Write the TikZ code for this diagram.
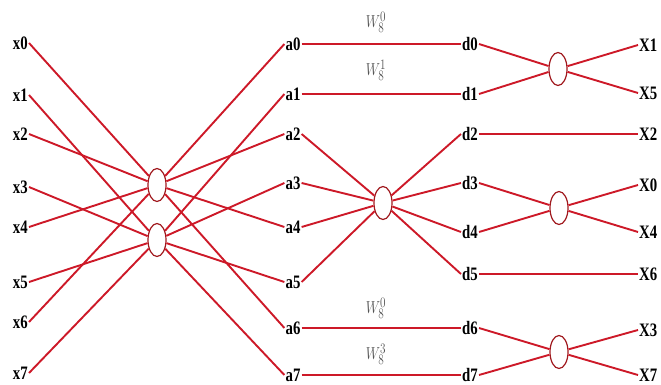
\documentclass[tikz,border=0pt]{standalone}
\usepackage{fontspec}
\usepackage{graphicx}
\setmainfont{Liberation Serif}
\usetikzlibrary{shapes.geometric}
\definecolor{wire}{RGB}{205,25,40}
\definecolor{ringc}{RGB}{160,25,30}
\definecolor{wgray}{RGB}{80,80,80}
\newcommand{\nm}[1]{\scalebox{0.78}[1]{#1}}
\begin{document}
\begin{tikzpicture}[x=1pt,y=-1pt,
  lbl/.style={font=\fontsize{19}{19}\selectfont\bfseries, inner sep=1pt, text=black},
  bfly/.style={ellipse, draw=ringc, line width=1.2pt, fill=white, minimum width=18pt, minimum height=33pt, inner sep=0pt},
  wire/.style={draw=wire, line width=1.9pt},
  twid/.style={font=\fontsize{19}{19}\selectfont, text=wgray, inner sep=0pt}]
\useasboundingbox (0,0) rectangle (661,385);
% input labels
\node[lbl, anchor=east] (x0) at (29,43) {\nm{x0}};
\node[lbl, anchor=east] (x1) at (29,95) {\nm{x1}};
\node[lbl, anchor=east] (x2) at (29,134) {\nm{x2}};
\node[lbl, anchor=east] (x3) at (29,187) {\nm{x3}};
\node[lbl, anchor=east] (x4) at (29,227) {\nm{x4}};
\node[lbl, anchor=east] (x5) at (29,282) {\nm{x5}};
\node[lbl, anchor=east] (x6) at (29,322) {\nm{x6}};
\node[lbl, anchor=east] (x7) at (29,373) {\nm{x7}};
% stage 1 butterflies
\node[bfly] (U) at (157,185) {};
\node[bfly] (L) at (157,240) {};
% a labels
\node[lbl] (a0) at (293,44) {\nm{a0}};
\node[lbl] (a1) at (293,94) {\nm{a1}};
\node[lbl] (a2) at (293,134) {\nm{a2}};
\node[lbl] (a3) at (293,183) {\nm{a3}};
\node[lbl] (a4) at (293,227) {\nm{a4}};
\node[lbl] (a5) at (293,282) {\nm{a5}};
\node[lbl] (a6) at (293,328) {\nm{a6}};
\node[lbl] (a7) at (293,375) {\nm{a7}};
% stage 2 butterfly
\node[bfly] (M) at (383,203) {};
% d labels
\node[lbl] (d0) at (470,44) {\nm{d0}};
\node[lbl] (d1) at (470,94) {\nm{d1}};
\node[lbl] (d2) at (470,134) {\nm{d2}};
\node[lbl] (d3) at (470,183) {\nm{d3}};
\node[lbl] (d4) at (470,232) {\nm{d4}};
\node[lbl] (d5) at (470,274) {\nm{d5}};
\node[lbl] (d6) at (470,328) {\nm{d6}};
\node[lbl] (d7) at (470,375) {\nm{d7}};
% stage 3 butterflies
\node[bfly] (R1) at (558,69) {};
\node[bfly] (R2) at (559,208) {};
\node[bfly] (R3) at (559,352) {};
% outputs
\node[lbl, anchor=west] (X1) at (638,45) {\nm{X1}};
\node[lbl, anchor=west] (X5) at (638,93) {\nm{X5}};
\node[lbl, anchor=west] (X2) at (638,134) {\nm{X2}};
\node[lbl, anchor=west] (X0) at (638,185) {\nm{X0}};
\node[lbl, anchor=west] (X4) at (638,232) {\nm{X4}};
\node[lbl, anchor=west] (X6) at (638,274) {\nm{X6}};
\node[lbl, anchor=west] (X3) at (638,330) {\nm{X3}};
\node[lbl, anchor=west] (X7) at (638,375) {\nm{X7}};
% twiddle labels
\node[twid] (w0) at (376,22) {\nm{$W_8^0$}};
\node[twid] (w1) at (376,70) {\nm{$W_8^1$}};
\node[twid] (w2) at (376,308) {\nm{$W_8^0$}};
\node[twid] (w3) at (376,354) {\nm{$W_8^3$}};
% stage 1 wires
\foreach \i in {0,2,4,6} {
  \draw[wire] (x\i.east) -- (U);
  \draw[wire] (U) -- (a\i.west);
}
\foreach \i in {1,3,5,7} {
  \draw[wire] (x\i.east) -- (L);
  \draw[wire] (L) -- (a\i.west);
}
% stage 2 wires
\foreach \i in {0,1,6,7} {
  \draw[wire] (a\i.east) -- (d\i.west);
}
\foreach \i in {2,3,4,5} {
  \draw[wire] (a\i.east) -- (M);
  \draw[wire] (M) -- (d\i.west);
}
% stage 3 wires
\draw[wire] (d0.east) -- (R1);
\draw[wire] (d1.east) -- (R1);
\draw[wire] (R1) -- (X1.west);
\draw[wire] (R1) -- (X5.west);
\draw[wire] (d2.east) -- (X2.west);
\draw[wire] (d3.east) -- (R2);
\draw[wire] (d4.east) -- (R2);
\draw[wire] (R2) -- (X0.west);
\draw[wire] (R2) -- (X4.west);
\draw[wire] (d5.east) -- (X6.west);
\draw[wire] (d6.east) -- (R3);
\draw[wire] (d7.east) -- (R3);
\draw[wire] (R3) -- (X3.west);
\draw[wire] (R3) -- (X7.west);
\end{tikzpicture}
\end{document}
